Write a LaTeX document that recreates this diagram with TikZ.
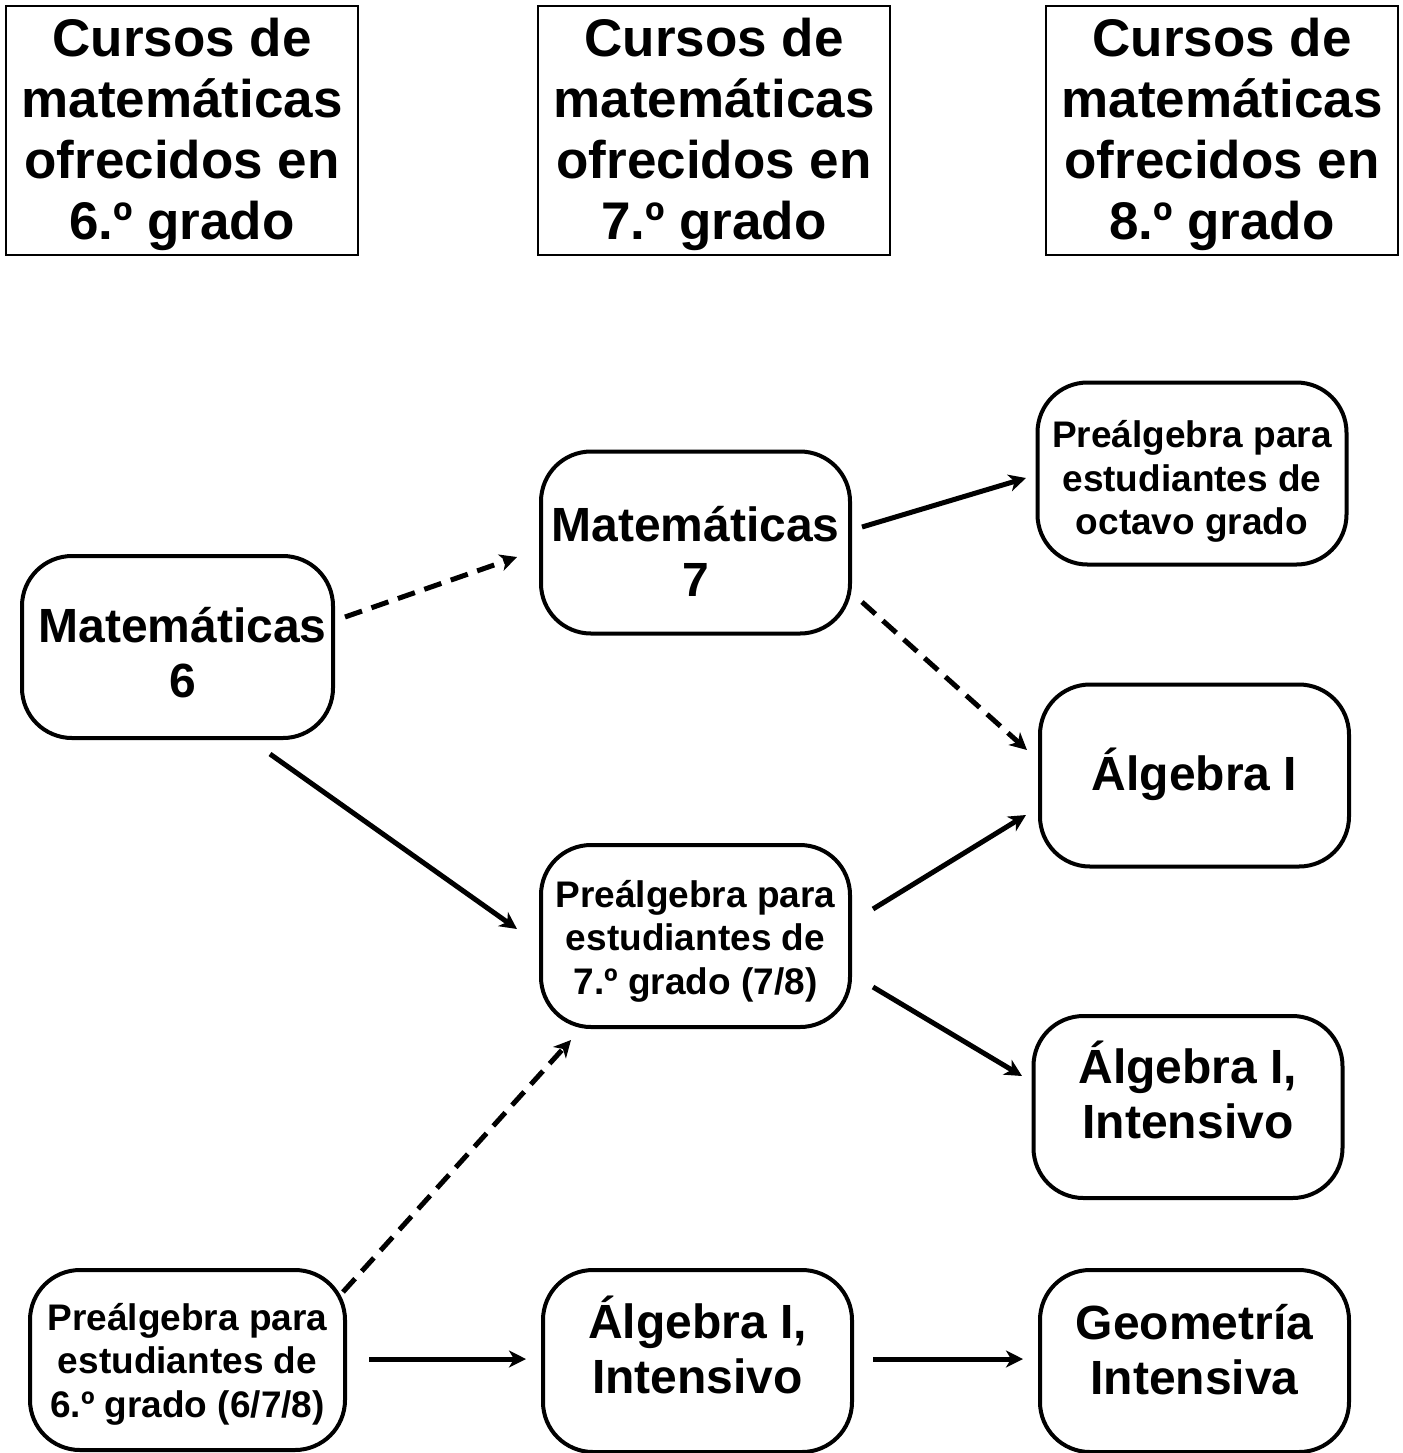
\documentclass[tikz,border=0pt]{standalone}
\usepackage{fontspec}
\setmainfont{Liberation Sans}
\usetikzlibrary{arrows.meta}
\newcommand\sd[2][2.75pt]{\raisebox{-#1}[\height][\depth]{\begin{tabular}{@{}c@{}}#2\end{tabular}}}
\begin{document}
\begin{tikzpicture}[x=0.5pt,y=-0.5pt,
  hdr/.style={draw, line width=1.1pt, minimum width=176pt, minimum height=124.5pt, align=center, inner sep=0pt, font=\fontsize{26.5}{30.5}\selectfont\bfseries},
  course/.style={draw, line width=2pt, rounded corners=25pt, minimum width=154.5pt, minimum height=91pt, align=center, inner sep=0pt},
  big/.style={font=\fontsize{24}{27.5}\selectfont\bfseries},
  small/.style={font=\fontsize{18.5}{21.75}\selectfont\bfseries},
  arr/.style={line width=2.5pt, -{Stealth[length=8.5pt,width=8.5pt,inset=2.5pt]}},
  dsh/.style={arr, dash pattern=on 9pt off 5pt}]
\useasboundingbox (0,0) rectangle (1403,1453);

% headers
\node[hdr] (h6) at (182,130.5) {\sd[2.5pt]{Cursos de\\matemáticas\\ofrecidos en\\6.º grado}};
\node[hdr] (h7) at (714,130.5) {\sd[2.5pt]{Cursos de\\matemáticas\\ofrecidos en\\7.º grado}};
\node[hdr] (h8) at (1222,130.5) {\sd[2.5pt]{Cursos de\\matemáticas\\ofrecidos en\\8.º grado}};

% course nodes
\node[course,big,minimum width=155.5pt] (m6) at (177.5,647) {\sd[6pt]{\hspace*{5pt}Matemáticas\\\hspace*{5pt}6}};
\node[course,big] (m7) at (695.5,542.5) {\sd[7.5pt]{Matemáticas\\7}};
\node[course,small] (p8) at (1192,473.5) {\sd[4.5pt]{Preálgebra para\\estudiantes de\\octavo grado}};
\node[course,big] (a8) at (1194.5,775.5) {\sd[1pt]{Álgebra I}};
\node[course,small] (p7) at (695.5,936) {\sd[3pt]{Preálgebra para\\estudiantes de\\7.º grado (7/8)}};
\node[course,big] (ai8) at (1188,1107) {\sd[-4.5pt]{Álgebra I,\\Intensivo}};
\node[course,small,minimum width=157.5pt,minimum height=90pt] (p6) at (187.5,1360) {\sd[2.5pt]{Preálgebra para\\estudiantes de\\6.º grado (6/7/8)}};
\node[course,big] (ai7) at (697.5,1361) {\sd[-4pt]{Álgebra I,\\Intensivo}};
\node[course,big] (g8) at (1194.5,1361) {\sd[-2.5pt]{Geometría\\Intensiva}};

% connector end points
\coordinate (m6a) at (345,617);   \coordinate (m7a) at (517,557);
\coordinate (m7b) at (862,527);   \coordinate (p8a) at (1026,478);
\coordinate (m7c) at (862,602);   \coordinate (a8a) at (1027,750);
\coordinate (m6b) at (270,754);   \coordinate (p7a) at (517,929);
\coordinate (p7b) at (873,909);   \coordinate (a8b) at (1026,815);
\coordinate (p7c) at (873,987);   \coordinate (ai8a) at (1022,1076);
\coordinate (p6a) at (343,1292);  \coordinate (p7d) at (571,1040);
\coordinate (p6b) at (369,1359);  \coordinate (ai7a) at (526,1359);
\coordinate (ai7b) at (873,1359); \coordinate (g8a) at (1023,1359);

\draw[dsh] (m6a) -- (m7a);
\draw[arr] (m7b) -- (p8a);
\draw[dsh] (m7c) -- (a8a);
\draw[arr] (m6b) -- (p7a);
\draw[arr] (p7b) -- (a8b);
\draw[arr] (p7c) -- (ai8a);
\draw[dsh] (p6a) -- (p7d);
\draw[arr] (p6b) -- (ai7a);
\draw[arr] (ai7b) -- (g8a);
\end{tikzpicture}
\end{document}
